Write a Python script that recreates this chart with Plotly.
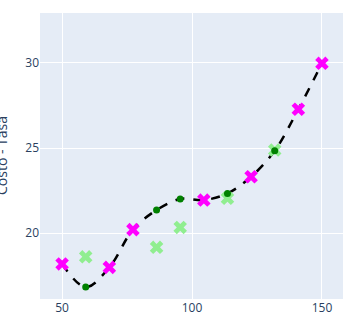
import numpy as np
import plotly.graph_objects as go

x_all = [50, 59.09, 68.18, 77.27, 86.36, 95.45, 104.55, 113.64, 122.73, 131.82, 140.91, 150]
y_fit = [18.18, 16.82, 17.98, 20.2, 21.35, 22.0, 21.94, 22.33, 23.31, 24.84, 27.28, 29.98]

x_train = [50, 68.18, 77.27, 104.55, 122.73, 140.91, 150]
y_train = [18.18, 17.98, 20.2, 21.94, 23.31, 27.28, 29.98]

x_test = [59.09, 86.36, 95.45, 113.64, 131.82]
y_test = [18.6, 19.16, 20.33, 22.04, 24.88]
y_pred = [16.82, 21.35, 22.0, 22.33, 24.84]

y_title = "Costo - Tasa"

fig = go.Figure()
fig.add_trace(go.Scatter(x=x_all, y=y_fit, mode="lines",
                         line=dict(color="black", width=2.5, dash="dash", shape="spline")))
fig.add_trace(go.Scatter(x=x_train, y=y_train, mode="markers",
                         marker=dict(symbol="x", color="magenta", size=12)))
fig.add_trace(go.Scatter(x=x_test, y=y_test, mode="markers",
                         marker=dict(symbol="x", color="lightgreen", size=12)))
fig.add_trace(go.Scatter(x=x_test, y=y_pred, mode="markers",
                         marker=dict(symbol="circle", color="green", size=7)))

fig.update_layout(
    width=346, height=320,
    margin=dict(l=40, r=3, t=13, b=21),
    showlegend=False,
    font=dict(family="Open Sans", size=12, color="#2a3f5f"),
    plot_bgcolor="#e5ecf6",
    paper_bgcolor="white",
)
fig.add_annotation(text=y_title, xref="paper", yref="paper", x=0, y=0.5,
                   xanchor="center", yanchor="middle", xshift=-39,
                   textangle=-90, showarrow=False,
                   font=dict(size=14, color="#2a3f5f"))
fig.update_xaxes(range=[41.5, 158.1], tickvals=[50, 100, 150], gridcolor="white",
                 zeroline=False, automargin=False)
fig.update_yaxes(range=[16.12, 32.94], tickvals=[20, 25, 30], gridcolor="white",
                 zeroline=False, automargin=False)
fig.write_html("out.html")
